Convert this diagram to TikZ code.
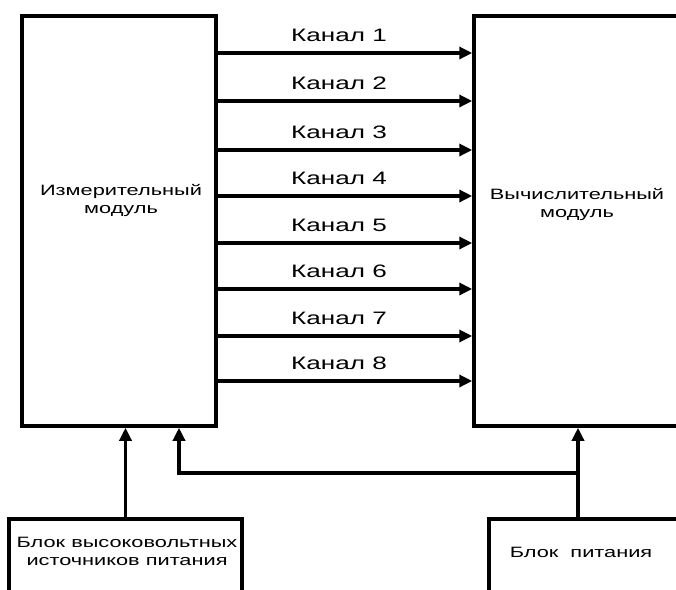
\documentclass[tikz,border=0pt]{standalone}
\usepackage{fontspec}
\setmainfont{Liberation Sans}[FakeStretch=1.45]
\usetikzlibrary{arrows.meta}

\begin{document}
\begin{tikzpicture}[x=1pt,y=-1pt,>={Triangle[length=13pt,width=12pt]},line width=3.5pt,
  blok/.style={draw,rectangle,inner sep=0pt},
  tekst/.style={align=center,font=\fontsize{15}{18}\selectfont},
  kanal/.style={anchor=base,font=\fontsize{18}{20}\selectfont}]

\useasboundingbox (0,0) rectangle (676,589);
\clip (0,0) rectangle (676,589);

% define the blocks
  \node[blok, minimum width=194pt, minimum height=410pt] (izm)  at (119,221) {};
  \node[blok, minimum width=208pt, minimum height=410pt] (vych) at (578,221) {};
  \node[blok, minimum width=233pt, minimum height=90pt]  (vvbp) at (125.5,564) {};
  \node[blok, minimum width=192pt, minimum height=90pt]  (bp)   at (585,564) {};

% block texts
  \node[tekst] (izmt)  at (121,200) {Измерительный\\модуль};
  \node[tekst] (vycht) at (577,204) {Вычислительный\\модуль};
  \node[tekst] (vvbpt) at (127,551) {Блок высоковольтных\\источников питания};
  \node[tekst] (bpt)   at (581,552) {Блок~\ питания};

% define the channels
  \foreach \i/\y in {1/53,2/101,3/150,4/196,5/243,6/289,7/336,8/381} {
    \draw[->] (izm.east |- 0,\y) -- (vych.west |- 0,\y);
    \node[kanal] (k\i) at (339,\y-12) {Канал \i};
  }

% power supply links
  \coordinate (uzel)    at (vych.south |- 0,473);
  \coordinate (povorot) at (179,473);
  \draw[->] (vvbp.north) -- (vvbp.north |- izm.south);
  \draw[->] (vych.south |- bp.north) -- (vych.south);
  \draw[->] (uzel) -- (povorot) -- (povorot |- izm.south);

\end{tikzpicture}
\end{document}
